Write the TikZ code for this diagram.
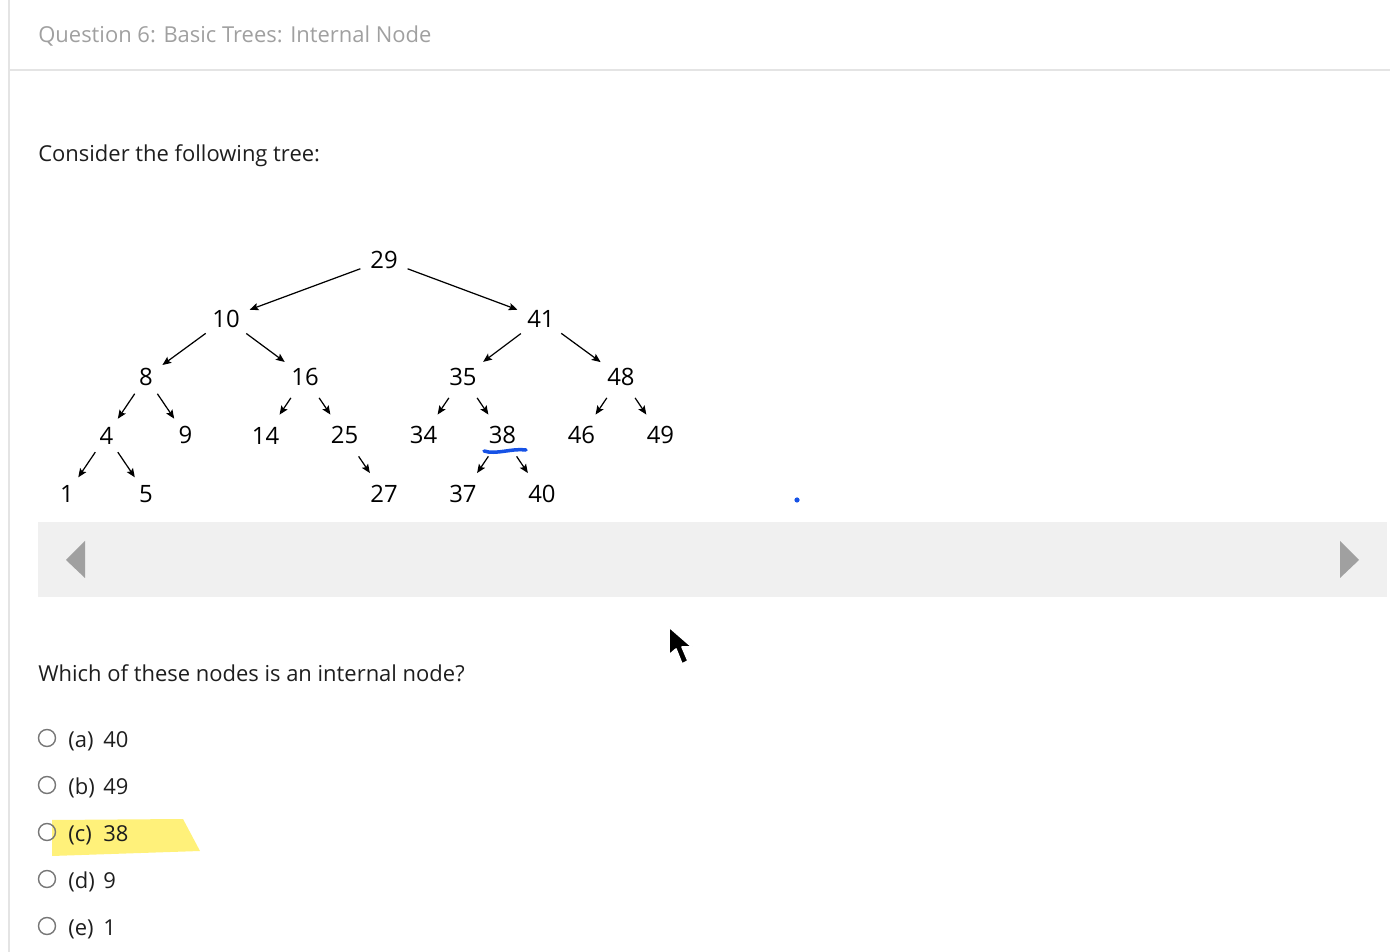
\documentclass[tikz,border=0pt]{standalone}
\usepackage{fontspec}
\setmainfont{Open Sans}
\usetikzlibrary{positioning,arrows.meta}
\definecolor{ink}{RGB}{30,30,30}
\definecolor{titlegray}{RGB}{160,160,160}
\definecolor{rulegray}{RGB}{228,228,228}
\definecolor{panelgray}{RGB}{240,240,240}
\definecolor{trigray}{RGB}{160,160,160}
\definecolor{radiogray}{RGB}{118,118,118}
\definecolor{marker}{RGB}{255,241,122}
\definecolor{penblue}{RGB}{22,82,230}

\begin{document}
\begin{tikzpicture}[x=0.02cm, y=-0.02cm, on grid,
    node distance=1.17cm and 0.79cm,
    num/.style={circle, font=\fontsize{13.6}{16}\selectfont, inner sep=0.125cm},
    arr/.style={-{Stealth[length=5pt,width=4.2pt,inset=1pt]}, line width=0.7pt},
    body/.style={anchor=base west, inner sep=0pt, text=ink, font=\fontsize{12.5}{15}\selectfont},
    radiobtn/.style={circle, draw=radiogray, line width=0.8pt, minimum size=0.34cm, inner sep=0pt}]
  \useasboundingbox (0,0) rectangle (1390,952);
  % page frame
  \draw[rulegray, line width=0.6pt] (9,0) -- (9,952);
  \draw[rulegray, line width=0.6pt] (9,70) -- (1390,70);
  \node[body, text=titlegray] (title) at (38,43) {Question 6: Basic Trees: Internal Node};
  \node[body] (intro) at (38,162) {Consider the following tree:};

  % the tree
  \node[num] (n29) at (384,260) {29};
  \node[num] (n10) [below left=1.17cm and 3.16cm of n29] {10};
  \node[num] (n41) [below right=1.17cm and 3.14cm of n29] {41};
  \node[num] (n8)  [below left=1.17cm and 1.6cm of n10] {8};
  \node[num] (n16) [below right=1.17cm and 1.58cm of n10] {16};
  \node[num] (n35) [below left=1.17cm and 1.56cm of n41] {35};
  \node[num] (n48) [below right=1.17cm and 1.6cm of n41] {48};
  \node[num] (n4)  [below left = of n8] {4};
  \node[num] (n9)  [below right = of n8] {9};
  \node[num] (n14) [below left = of n16] {14};
  \node[num] (n25) [below right = of n16] {25};
  \node[num] (n34) [below left = of n35] {34};
  \node[num] (n38) [below right = of n35] {38};
  \node[num] (n46) [below left = of n48] {46};
  \node[num] (n49) [below right = of n48] {49};
  \node[num] (n1)  [below left = of n4] {1};
  \node[num] (n5)  [below right = of n4] {5};
  \node[num] (n27) [below right = of n25] {27};
  \node[num] (n37) [below left = of n38] {37};
  \node[num] (n40) [below right = of n38] {40};
  \draw[arr] (n29) -- (n10);
  \draw[arr] (n29) -- (n41);
  \draw[arr] (n10) -- (n8);
  \draw[arr] (n10) -- (n16);
  \draw[arr] (n41) -- (n35);
  \draw[arr] (n41) -- (n48);
  \draw[arr] (n8) -- (n4);
  \draw[arr] (n8) -- (n9);
  \draw[arr] (n16) -- (n14);
  \draw[arr] (n16) -- (n25);
  \draw[arr] (n35) -- (n34);
  \draw[arr] (n35) -- (n38);
  \draw[arr] (n48) -- (n46);
  \draw[arr] (n48) -- (n49);
  \draw[arr] (n4) -- (n1);
  \draw[arr] (n4) -- (n5);
  \draw[arr] (n25) -- (n27);
  \draw[arr] (n38) -- (n37);
  \draw[arr] (n38) -- (n40);
  % pen marks
  \draw[penblue, line width=2pt, line cap=round] (484,451) .. controls (496,455) and (512,448) .. (526,450);
  \fill[penblue] (797,500) circle (2.6);

  % slide bar
  \fill[panelgray] (38,522) rectangle (1387,597);
  \fill[trigray] (66,560) -- (85,541) -- (85,578) -- cycle;
  \fill[trigray] (1340,541) -- (1359,560) -- (1340,578) -- cycle;

  % question and options
  \node[body] (ask) at (38,682) {Which of these nodes is an internal node?};
  \fill[marker] (52,820) -- (183,819) -- (200,851) -- (52,856) -- cycle;
  \node[radiobtn] (ra) at (47,738) {};
  \node[radiobtn] (rb) at (47,785) {};
  \node[radiobtn] (rc) at (47,832) {};
  \node[radiobtn] (rd) at (47,879) {};
  \node[radiobtn] (re) at (47,926) {};
  \node[body] (oa) at (68,747) {\makebox[0.7cm][l]{(a)}40};
  \node[body] (ob) at (68,794) {\makebox[0.7cm][l]{(b)}49};
  \node[body] (oc) at (68,841) {\makebox[0.7cm][l]{(c)}38};
  \node[body] (od) at (68,888) {\makebox[0.7cm][l]{(d)}9};
  \node[body] (oe) at (68,935) {\makebox[0.7cm][l]{(e)}1};

  % mouse pointer
  \filldraw[fill=black, draw=white, line width=0.9pt, line join=round]
    (669,627) -- (669,655) -- (676,649) -- (682,664) -- (688,661) -- (682,647) -- (692,647) -- cycle;
\end{tikzpicture}
\end{document}
